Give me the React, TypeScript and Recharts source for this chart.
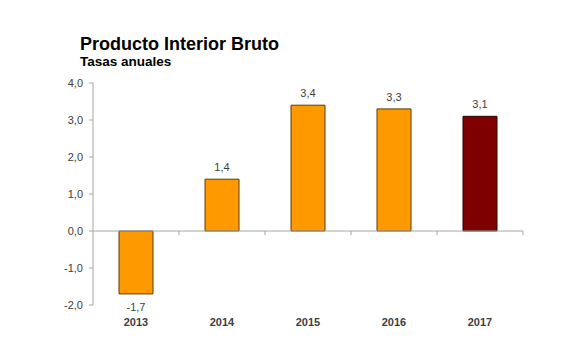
import React from 'react';
import { BarChart, Bar, XAxis, YAxis, Cell, LabelList, ReferenceLine } from 'recharts';

const years = ['2013', '2014', '2015', '2016', '2017'];
const growth = [-1.7, 1.4, 3.4, 3.3, 3.1];
const barColors = ['#FF9900', '#FF9900', '#FF9900', '#FF9900', '#7F0000'];
const barStrokes = ['#5C3A00', '#5C3A00', '#5C3A00', '#5C3A00', '#2E0000'];
const yTicks = [-2, -1, 0, 1, 2, 3, 4];

const data = years.map((year, i) => ({ year, value: growth[i] }));

const fmt = (v: number) => v.toFixed(1).replace('.', ',');

const FONT = '"Liberation Sans", Arial, sans-serif';

// línea del cero con marcas entre categorías
function ZeroLine(props: any) {
  const { x1, y1, x2 } = props;
  const n = years.length;
  const step = (x2 - x1) / n;
  const marks = [];
  for (let i = 1; i <= n; i++) {
    const x = x1 + step * i;
    marks.push(<line key={i} x1={x} y1={y1} x2={x} y2={y1 + 4} stroke="#A6A6A6" strokeWidth={1} />);
  }
  return (
    <g>
      <line x1={x1} y1={y1} x2={x2} y2={y1} stroke="#A6A6A6" strokeWidth={1} />
      {marks}
    </g>
  );
}

function ValueLabel(props: any) {
  const { x, y, width, height, value } = props;
  const top = Math.min(y, y + height);
  const bottom = Math.max(y, y + height);
  const ty = value >= 0 ? top - 8 : bottom + 17;
  return (
    <text x={x + width / 2} y={ty} textAnchor="middle" fontSize={11} fill="#404040" fontFamily={FONT}>
      {fmt(value)}
    </text>
  );
}

export default function App() {
  return (
    <div style={{ position: 'relative', width: 588, height: 353, margin: -8, background: '#fff', fontFamily: FONT }}>
      <div style={{ position: 'absolute', left: 80, top: 35, fontSize: 18, lineHeight: '18px', fontWeight: 'bold', color: '#000' }}>
        Producto Interior Bruto
      </div>
      <div style={{ position: 'absolute', left: 80, top: 54.6, fontSize: 13.5, lineHeight: '13.5px', fontWeight: 'bold', color: '#000' }}>
        Tasas anuales
      </div>
      <BarChart width={588} height={353} data={data} margin={{ top: 83, right: 65, bottom: 18, left: 0 }} barSize={34}>
        <XAxis
          dataKey="year"
          axisLine={false}
          tickLine={false}
          tickMargin={7}
          height={30}
          tick={{ fontSize: 11, fontWeight: 'bold', fill: '#404040', fontFamily: FONT }}
        />
        <YAxis
          width={93}
          domain={[-2, 4]}
          ticks={yTicks}
          interval={0}
          tickFormatter={fmt}
          tickSize={4}
          tickMargin={6}
          axisLine={{ stroke: '#A6A6A6' }}
          tickLine={{ stroke: '#A6A6A6' }}
          tick={{ fontSize: 11, fill: '#404040', fontFamily: FONT }}
        />
        <Bar dataKey="value" isAnimationActive={false} strokeWidth={1}>
          {data.map((d, i) => (
            <Cell key={d.year} fill={barColors[i]} stroke={barStrokes[i]} />
          ))}
          <LabelList dataKey="value" content={ValueLabel} />
        </Bar>
        <ReferenceLine y={0} shape={ZeroLine} ifOverflow="visible" />
      </BarChart>
    </div>
  );
}
